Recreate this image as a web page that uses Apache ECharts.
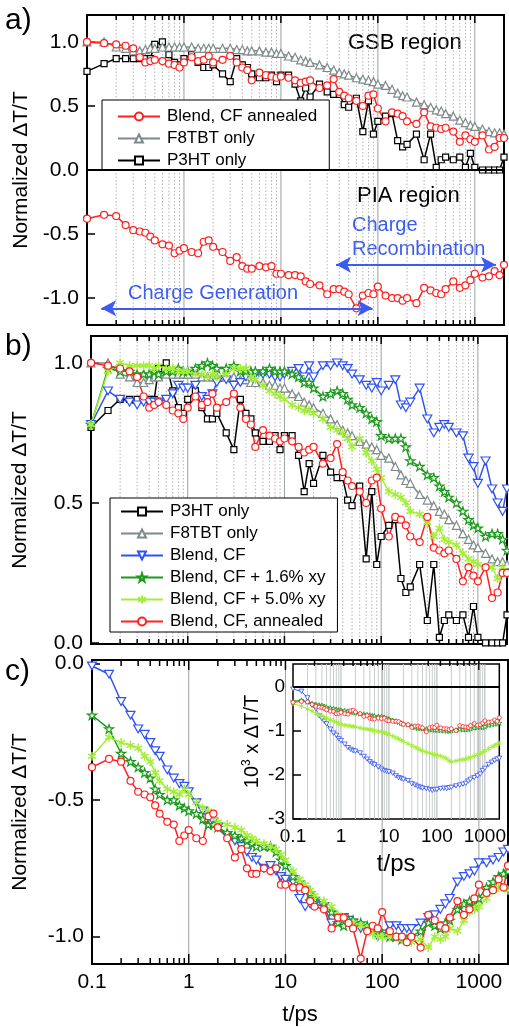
<!DOCTYPE html>
<html><head><meta charset="utf-8">
<script src="https://cdn.jsdelivr.net/npm/echarts@6/dist/echarts.min.js"></script>
<style>html,body{margin:0;padding:0;background:#fff}#c{width:509px;height:1027px}</style>
</head><body><div id="c"></div>
<script>
// time delays (ps)
const t = [0.1,0.15,0.2,0.25,0.3,0.35,0.4,0.45,0.5,0.6,0.7,0.8,0.9,
  1,1.2,1.4,1.6,1.8,2,2.5,3,3.5,4,4.5,5,6,7,8,9,
  10,12,14,16,18,20,25,30,35,40,45,50,60,70,80,90,
  100,120,140,160,180,200,250,300,350,400,450,500,600,700,800,900,
  1000,1200,1400,1600,1800,2000];

// GSB region (normalized)
const gsbBlendAnnealed = [1.0,0.99,0.98,0.97,0.95,0.88,0.84,0.85,0.86,0.85,0.83,0.82,0.80,
  0.84,0.88,0.85,0.86,0.89,0.84,0.86,0.89,0.84,0.80,0.78,0.70,0.76,0.74,0.73,0.72,
  0.73,0.72,0.70,0.68,0.69,0.70,0.64,0.66,0.71,0.61,0.58,0.56,0.54,0.50,0.58,0.59,
  0.48,0.38,0.45,0.44,0.42,0.38,0.36,0.45,0.34,0.33,0.32,0.33,0.30,0.22,0.27,0.24,
  0.22,0.27,0.16,0.18,0.25,0.25];
const gsbF8TBT = [1.0,1.0,0.96,0.95,0.93,0.93,0.94,0.95,0.95,0.96,0.96,0.96,0.96,
  0.96,0.96,0.95,0.95,0.95,0.95,0.95,0.95,0.94,0.94,0.93,0.93,0.93,0.92,0.92,0.91,
  0.91,0.89,0.88,0.86,0.85,0.84,0.82,0.80,0.78,0.76,0.75,0.74,0.72,0.71,0.70,0.69,
  0.67,0.66,0.63,0.60,0.58,0.57,0.53,0.51,0.49,0.47,0.46,0.44,0.42,0.39,0.37,0.35,
  0.34,0.32,0.30,0.29,0.29,0.28];
const gsbP3HT = [0.77,0.83,0.87,0.87,0.87,0.87,0.87,0.87,0.98,1.0,0.90,0.84,0.82,
  0.87,0.90,0.84,0.80,0.80,0.82,0.75,0.69,0.87,0.82,0.80,0.75,0.72,0.72,0.74,0.69,
  0.74,0.74,0.67,0.54,0.64,0.57,0.67,0.61,0.59,0.59,0.51,0.49,0.56,0.30,0.54,0.28,
  0.38,0.42,0.44,0.23,0.18,0.20,0.28,0.08,0.28,0.02,0.08,0.10,0.08,0.10,0.02,0.13,
  0.02,0.0,0.0,0.0,0.0,0.10];
const gsbBlendCF = [0.78,0.90,0.87,0.86,0.85,0.86,0.86,0.86,0.86,0.87,0.89,0.92,0.91,
  0.91,0.92,0.88,0.87,0.89,0.93,0.94,0.92,0.93,0.95,0.96,0.96,0.96,0.96,0.95,0.95,
  0.96,0.97,0.98,0.95,0.99,0.95,0.99,0.99,1.0,0.99,0.98,0.96,0.94,0.92,0.91,0.93,
  0.90,0.92,0.94,0.85,0.84,0.86,0.91,0.80,0.75,0.77,0.78,0.77,0.75,0.74,0.66,0.63,
  0.57,0.65,0.55,0.50,0.47,0.55];
const gsbBlend16 = [0.78,0.98,0.97,0.97,0.96,0.96,0.96,0.97,0.96,0.97,0.97,0.98,0.97,
  0.97,0.98,0.99,1.0,0.99,0.98,0.98,0.99,0.97,0.97,0.97,0.97,0.97,0.98,0.97,0.97,
  0.97,0.96,0.95,0.93,0.93,0.91,0.88,0.89,0.90,0.89,0.87,0.85,0.84,0.82,0.80,0.79,
  0.74,0.73,0.73,0.73,0.70,0.65,0.63,0.60,0.59,0.56,0.54,0.52,0.50,0.47,0.44,0.42,
  0.41,0.38,0.39,0.39,0.37,0.33];
const gsbBlend50 = [0.78,0.97,1.0,0.99,0.99,0.99,0.99,0.98,0.99,0.98,0.98,0.97,0.97,
  0.97,0.96,0.96,0.95,0.96,0.95,0.96,0.98,0.98,0.98,0.95,0.94,0.92,0.90,0.89,0.88,
  0.87,0.85,0.84,0.83,0.83,0.82,0.80,0.77,0.76,0.75,0.73,0.70,0.73,0.68,0.65,0.62,
  0.59,0.54,0.53,0.52,0.50,0.47,0.46,0.43,0.38,0.41,0.37,0.36,0.35,0.32,0.30,0.29,
  0.28,0.27,0.27,0.23,0.27,0.25];

// PIA region (normalized)
const piaBlendAnnealed = [-0.38,-0.35,-0.36,-0.43,-0.47,-0.48,-0.49,-0.52,-0.55,-0.58,-0.59,-0.65,-0.63,
  -0.61,-0.64,-0.65,-0.56,-0.55,-0.60,-0.64,-0.71,-0.68,-0.75,-0.77,-0.77,-0.75,-0.76,-0.75,-0.81,
  -0.81,-0.82,-0.82,-0.83,-0.87,-0.89,-0.90,-0.97,-0.93,-0.93,-0.95,-0.97,-1.08,-0.98,-0.96,-0.97,
  -0.91,-0.98,-1.0,-1.0,-1.02,-1.0,-1.04,-0.92,-0.94,-0.96,-0.97,-0.93,-0.87,-0.92,-0.90,-0.86,
  -0.81,-0.84,-0.83,-0.79,-0.82,-0.74];
const piaBlendCF = [-0.01,-0.04,-0.14,-0.19,-0.24,-0.26,-0.29,-0.32,-0.34,-0.39,-0.42,-0.44,-0.45,
  -0.47,-0.51,-0.54,-0.56,-0.58,-0.60,-0.63,-0.65,-0.67,-0.69,-0.71,-0.72,-0.75,-0.74,-0.76,-0.78,
  -0.79,-0.80,-0.86,-0.89,-0.88,-0.88,-0.89,-0.95,-0.93,-0.93,-0.94,-0.95,-0.97,-0.97,-0.98,-1.0,
  -0.99,-0.96,-0.96,-0.97,-0.97,-0.97,-0.95,-0.93,-0.92,-0.90,-0.88,-0.86,-0.80,-0.78,-0.77,-0.76,
  -0.73,-0.73,-0.72,-0.71,-0.69,-0.68];
const piaBlend16 = [-0.19,-0.24,-0.33,-0.36,-0.38,-0.40,-0.42,-0.46,-0.48,-0.50,-0.50,-0.52,-0.53,
  -0.54,-0.55,-0.57,-0.59,-0.59,-0.60,-0.62,-0.63,-0.64,-0.65,-0.66,-0.67,-0.67,-0.67,-0.69,-0.72,
  -0.74,-0.78,-0.80,-0.82,-0.84,-0.86,-0.88,-0.91,-0.95,-0.96,-0.94,-0.94,-0.95,-0.96,-0.97,-0.98,
  -0.99,-1.0,-1.0,-1.01,-1.01,-1.0,-0.98,-0.95,-0.96,-0.97,-0.95,-0.94,-0.90,-0.88,-0.87,-0.89,
  -0.86,-0.82,-0.80,-0.78,-0.77,-0.76];
const piaBlend50 = [-0.34,-0.27,-0.29,-0.30,-0.31,-0.34,-0.36,-0.40,-0.43,-0.46,-0.47,-0.48,-0.46,
  -0.48,-0.51,-0.53,-0.54,-0.56,-0.58,-0.59,-0.60,-0.61,-0.63,-0.64,-0.65,-0.66,-0.67,-0.68,-0.70,
  -0.72,-0.76,-0.79,-0.81,-0.83,-0.85,-0.87,-0.89,-0.92,-0.93,-0.95,-0.95,-0.96,-0.97,-0.99,-1.0,
  -1.0,-1.0,-1.0,-1.01,-1.02,-1.02,-1.01,-1.04,-1.0,-1.01,-1.0,-0.97,-0.98,-0.94,-0.91,-0.90,
  -0.89,-0.86,-0.83,-0.82,-0.82,-0.83];

// inset: 10^3 x dT/T
const insetBlendAnnealed = [-0.35,-0.33,-0.34,-0.40,-0.44,-0.46,-0.47,-0.49,-0.52,-0.55,-0.56,-0.61,-0.60,
  -0.58,-0.61,-0.62,-0.54,-0.53,-0.57,-0.61,-0.67,-0.65,-0.71,-0.73,-0.73,-0.71,-0.72,-0.71,-0.76,
  -0.77,-0.78,-0.78,-0.79,-0.83,-0.85,-0.86,-0.92,-0.89,-0.89,-0.91,-0.93,-1.02,-0.93,-0.91,-0.92,
  -0.87,-0.93,-0.95,-0.95,-0.97,-0.95,-0.99,-0.88,-0.90,-0.91,-0.92,-0.88,-0.83,-0.87,-0.86,-0.82,
  -0.77,-0.80,-0.79,-0.75,-0.78,-0.70];
const insetBlend16 = [-0.33,-0.30,-0.34,-0.38,-0.40,-0.41,-0.42,-0.44,-0.46,-0.48,-0.49,-0.51,-0.52,
  -0.53,-0.54,-0.55,-0.57,-0.58,-0.59,-0.61,-0.62,-0.63,-0.64,-0.65,-0.66,-0.67,-0.67,-0.69,-0.71,
  -0.73,-0.76,-0.78,-0.80,-0.82,-0.84,-0.86,-0.89,-0.92,-0.94,-0.94,-0.95,-0.96,-0.97,-0.97,-0.98,
  -0.98,-0.99,-0.99,-1.0,-1.0,-0.99,-0.98,-0.96,-0.97,-0.97,-0.96,-0.95,-0.93,-0.92,-0.91,-0.92,
  -0.90,-0.87,-0.85,-0.84,-0.83,-0.82];
const insetBlend50 = [-0.38,-0.44,-0.50,-0.55,-0.60,-0.63,-0.66,-0.69,-0.71,-0.75,-0.78,-0.80,-0.83,
  -0.85,-0.87,-0.88,-0.89,-0.90,-0.91,-0.93,-0.95,-0.96,-0.97,-0.98,-0.99,-1.01,-1.02,-1.04,-1.06,
  -1.08,-1.12,-1.15,-1.18,-1.21,-1.24,-1.29,-1.33,-1.37,-1.40,-1.43,-1.45,-1.48,-1.50,-1.52,-1.54,
  -1.55,-1.57,-1.60,-1.63,-1.68,-1.70,-1.68,-1.66,-1.65,-1.64,-1.62,-1.60,-1.57,-1.54,-1.52,-1.48,
  -1.45,-1.40,-1.36,-1.33,-1.30,-1.28];
const insetBlendCF = [-0.05,-0.10,-0.25,-0.42,-0.50,-0.66,-0.72,-0.78,-0.84,-0.96,-1.05,-1.10,-1.18,
  -1.22,-1.30,-1.38,-1.42,-1.45,-1.46,-1.50,-1.58,-1.64,-1.70,-1.74,-1.77,-1.82,-1.87,-1.90,-1.92,
  -1.93,-1.96,-2.02,-2.06,-2.08,-2.10,-2.13,-2.20,-2.23,-2.26,-2.28,-2.30,-2.31,-2.33,-2.35,-2.33,
  -2.33,-2.31,-2.30,-2.31,-2.29,-2.28,-2.25,-2.23,-2.21,-2.19,-2.14,-2.10,-2.06,-2.02,-1.98,-1.90,
  -1.85,-1.76,-1.71,-1.67,-1.64,-1.62];

// ticks
const majorTicks = [1,10,100,1000];
const minorTicks = [0.2,0.3,0.4,0.5,0.6,0.7,0.8,0.9,2,3,4,5,6,7,8,9,
  20,30,40,50,60,70,80,90,200,300,400,500,600,700,800,900];
const yTicksA = [-1,-0.5,0,0.5,1];
const yTicksB = [0,0.5,1];
const yTicksC = [-1,-0.5,0];
const yTicksInset = [-3,-2,-1,0];
// arrows (t, value) in panel a
const arrowGeneration = [[0.14,-1.08],[88,-1.08]];
const arrowRecombination = [[37,-0.74],[1650,-0.74]];

const FF = "'Liberation Sans', Arial, Helvetica, sans-serif";
const C = {red:'#ff2020', gray:'#7f8a8a', black:'#000000', blue:'#2f52f5', dgreen:'#1b9a1b', lgreen:'#a4ee38', arrow:'#3a5cf2'};
const SYM = {
  circle:'circle', square:'rect', tri:'triangle',
  down:'path://M0,0L10,0L5,8.66Z',
  star:'path://M5,0L6.18,3.62L10,3.62L6.91,5.86L8.09,9.51L5,7.27L1.91,9.51L3.09,5.86L0,3.62L3.82,3.62Z',
  ast:'path://M5,0L5,10M0.67,2.5L9.33,7.5M0.67,7.5L9.33,2.5'
};

function line(name, gi, ys, color, symbol, size, opts) {
  opts = opts || {};
  return Object.assign({
    type:'line', name, xAxisIndex:gi, yAxisIndex:gi,
    data: t.map((x,i)=>[x, ys[i]]),
    symbol, symbolSize:size, showAllSymbol:true, symbolKeepAspect:true,
    lineStyle:{color, width:opts.lw||1.5},
    itemStyle:{color: symbol===SYM.ast ? 'rgba(0,0,0,0)' : '#fff', borderColor:color, borderWidth:opts.bw||1.2},
    emphasis:{disabled:true}, z:3
  }, opts.extra||{});
}

function decor(gi, yMin, yMax, cfg) {
  const data = majorTicks.map(v=>[v, yMin, 1]).concat(minorTicks.map(v=>[v, yMin, 0]));
  return {
    type:'custom', name:'decor'+gi, xAxisIndex:gi, yAxisIndex:gi, z:1, silent:true, clip:false,
    data, encode:{x:0, y:1},
    renderItem(params, api){
      const x = api.value(0), major = api.value(2) === 1;
      const b = api.coord([x, yMin]), tp = api.coord([x, yMax]);
      const ch = [];
      const gl = major ? cfg.major : cfg.minor;
      if (gl) ch.push({type:'line', shape:{x1:b[0],y1:b[1],x2:tp[0],y2:tp[1]}, style:Object.assign({fill:null}, gl)});
      const len = major ? cfg.majorLen : cfg.minorLen;
      if (len) {
        ch.push({type:'line', shape:{x1:b[0],y1:b[1],x2:b[0],y2:b[1]-len}, style:{stroke:'#000', lineWidth:1.5}});
        if (cfg.top) ch.push({type:'line', shape:{x1:tp[0],y1:tp[1],x2:tp[0],y2:tp[1]+len}, style:{stroke:'#000', lineWidth:1.5}});
      }
      return {type:'group', children:ch};
    }
  };
}

function fmtT(v){
  const e = Math.log10(v);
  if (Math.abs(e-Math.round(e))>0.01) return '';
  return String(+Math.pow(10, Math.round(e)).toPrecision(1));
}

function xAx(gi, showLabels, fs, name, nameGap, nameSize) {
  return {type:'log', logBase:10, gridIndex:gi, min:0.1, max:2000,
    name: name||'', nameLocation:'middle', nameGap: nameGap||30,
    nameTextStyle:{fontSize:nameSize||22, fontFamily:FF, color:'#000'},
    axisLine:{show:false}, axisTick:{show:false}, splitLine:{show:false}, minorTick:{show:false},
    axisLabel:{show:showLabels, fontSize:fs||20, color:'#000', fontFamily:FF, margin:8, showMaxLabel:false, showMinLabel:true, formatter: fmtT}};
}
function yAx(gi, min, max, ticks, opts) {
  return {type:'value', gridIndex:gi, min, max,
    name: opts.name, nameLocation:'middle', nameGap: opts.nameGap, nameRotate:90,
    nameTextStyle: Object.assign({fontSize:21, fontFamily:FF, color:'#000'}, opts.nameStyle||{}),
    axisLine:{show:false}, splitLine:{show:false},
    axisTick:{show:true, inside:true, length:opts.tickLen||8, customValues:ticks, lineStyle:{color:'#000', width:1.5}},
    axisLabel:{fontSize:opts.fs||21, color:'#000', fontFamily:FF, margin:opts.margin||8, customValues:ticks, formatter: opts.fmt}};
}
const f1 = v => v.toFixed(1);
const f0 = v => String(Math.round(v));

const gridStyle = {show:true, borderColor:'#000', borderWidth:2, backgroundColor:'transparent', containLabel:false};
const grids = [
  Object.assign({left:87, top:15, width:417, height:310}, gridStyle),
  Object.assign({left:91, top:336, width:416, height:308}, gridStyle),
  Object.assign({left:92, top:660, width:416, height:309}, gridStyle),
  Object.assign({left:293, top:664, width:210, height:155}, gridStyle, {borderWidth:1.5})
];

const yA = [-1.21, 1.21], yB = [-0.004, 1.096], yC = [-1.10, 0.012], yI = [-3, 0.52];

const dotted = {stroke:'#b4b4b4', lineWidth:1, lineDash:[1.5,2]};
const decadeLine = {stroke:'#9aa0a0', lineWidth:1};

const series = [
  decor(0, yA[0], yA[1], {major:decadeLine, minor:dotted, majorLen:8, minorLen:5, top:true}),
  decor(1, yB[0], yB[1], {major:decadeLine, minor:dotted, majorLen:8, minorLen:5, top:true}),
  decor(2, yC[0], yC[1], {major:decadeLine, minor:null, majorLen:10, minorLen:6, top:true}),
  decor(3, yI[0], yI[1], {major:{stroke:'#b0b4b4', lineWidth:1}, minor:{stroke:'#c8cccc', lineWidth:1}, majorLen:0, minorLen:0}),

  // panel a
  line('P3HT only', 0, gsbP3HT, C.black, SYM.square, 6),
  line('F8TBT only', 0, gsbF8TBT, C.gray, SYM.tri, 8),
  line('Blend, CF annealed', 0, gsbBlendAnnealed, C.red, SYM.circle, 7, {extra:{
    markLine:{silent:true, symbol:'none', label:{show:false}, animation:false,
      lineStyle:{color:'#000', width:2, type:'solid'}, data:[{yAxis:0}]}}}),
  line('PIA Blend, CF annealed', 0, piaBlendAnnealed, C.red, SYM.circle, 7, {extra:{
    markLine:{silent:true, symbol:['arrow','arrow'], symbolSize:[12,15], label:{show:false}, animation:false,
      lineStyle:{color:C.arrow, width:2, type:'solid'},
      data:[[{coord:arrowGeneration[0]},{coord:arrowGeneration[1]}],
            [{coord:arrowRecombination[0]},{coord:arrowRecombination[1]}]]}}}),

  // panel b
  line('P3HT only', 1, gsbP3HT, C.black, SYM.square, 6),
  line('F8TBT only', 1, gsbF8TBT, C.gray, SYM.tri, 8),
  line('Blend, CF', 1, gsbBlendCF, C.blue, SYM.down, 9),
  line('Blend, CF + 1.6% xy', 1, gsbBlend16, C.dgreen, SYM.star, 9),
  line('Blend, CF + 5.0% xy', 1, gsbBlend50, C.lgreen, SYM.ast, 9, {bw:1.5}),
  line('Blend, CF, annealed', 1, gsbBlendAnnealed, C.red, SYM.circle, 7),

  // panel c
  line('c Blend, CF', 2, piaBlendCF, C.blue, SYM.down, 9),
  line('c Blend 1.6', 2, piaBlend16, C.dgreen, SYM.star, 9),
  line('c Blend 5.0', 2, piaBlend50, C.lgreen, SYM.ast, 9, {bw:1.5}),
  line('c Blend annealed', 2, piaBlendAnnealed, C.red, SYM.circle, 7),

  // inset
  line('i Blend, CF', 3, insetBlendCF, C.blue, SYM.down, 5, {lw:1, bw:0.8, extra:{
    markLine:{silent:true, symbol:'none', label:{show:false}, animation:false,
      lineStyle:{color:'#000', width:2, type:'solid'}, data:[{yAxis:0}]}}}),
  line('i Blend 5.0', 3, insetBlend50, C.lgreen, SYM.ast, 5, {lw:1, bw:1}),
  line('i Blend 1.6', 3, insetBlend16, C.dgreen, SYM.star, 5, {lw:1, bw:0.8}),
  line('i Blend annealed', 3, insetBlendAnnealed, C.red, SYM.circle, 4, {lw:1, bw:0.8}),
];

const legendBase = {orient:'vertical', itemWidth:42, itemHeight:10, itemGap:5, selectedMode:false,
  backgroundColor:'#fff', borderColor:'#000', borderWidth:1, borderRadius:0,
  textStyle:{fontSize:17, fontFamily:FF, color:'#000', padding:[0,0,0,2]}};

const option = {
  animation:false,
  backgroundColor:'#fff',
  grid: grids,
  xAxis: [xAx(0,false), xAx(1,false), xAx(2,true,21,'t/ps',40,22), xAx(3,true,19,'t/ps',33,24)],
  yAxis: [
    yAx(0, yA[0], yA[1], yTicksA, {name:'Normalized ΔT/T', nameGap:55, fmt:f1}),
    yAx(1, yB[0], yB[1], yTicksB, {name:'Normalized ΔT/T', nameGap:60, fmt:f1}),
    yAx(2, yC[0], yC[1], yTicksC, {name:'Normalized ΔT/T', nameGap:61, fmt:f1}),
    yAx(3, yI[0], yI[1], yTicksInset, {name:'10{s|3} x ΔT/T', nameGap:30, fmt:f0, fs:19, tickLen:0,
      nameStyle:{fontSize:20, rich:{s:{fontSize:12, verticalAlign:'top', padding:[0,0,10,0], fontFamily:FF, color:'#000'}}}})
  ],
  legend: [
    Object.assign({left:102, top:100, padding:[8,12,1,15],
      data:['Blend, CF annealed','F8TBT only','P3HT only']}, legendBase),
    Object.assign({left:110, top:498, padding:[5,12,2,10],
      data:['P3HT only','F8TBT only','Blend, CF','Blend, CF + 1.6% xy','Blend, CF + 5.0% xy','Blend, CF, annealed']}, legendBase)
  ],
  graphic: [
    {type:'text', left:5, top:6, style:{text:'a)', font:'30px '+FF, fill:'#000'}},
    {type:'text', left:5, top:332, style:{text:'b)', font:'30px '+FF, fill:'#000'}},
    {type:'text', left:5, top:657, style:{text:'c)', font:'30px '+FF, fill:'#000'}},
    {type:'text', left:348, top:32, style:{text:'GSB region', font:'22px '+FF, fill:'#000'}},
    {type:'text', left:357, top:185, style:{text:'PIA region', font:'22px '+FF, fill:'#000'}},
    {type:'text', left:352, top:215, style:{text:'Charge', font:'20px '+FF, fill:C.arrow}},
    {type:'text', left:352, top:239, style:{text:'Recombination', font:'20px '+FF, fill:C.arrow}},
    {type:'text', left:128, top:283, style:{text:'Charge Generation', font:'20px '+FF, fill:C.arrow}}
  ],
  series
};

const chart = echarts.init(document.getElementById('c'), null, {renderer:'canvas'});
chart.setOption(option);
</script>
</body></html>
